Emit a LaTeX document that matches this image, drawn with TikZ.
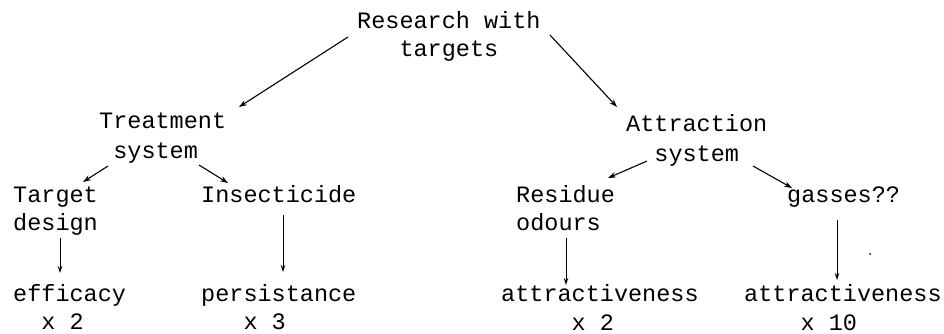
\documentclass[tikz,border=0pt]{standalone}
\usepackage{fontspec}
\setmonofont{Liberation Mono}
\usetikzlibrary{arrows.meta,calc}
\begin{document}
\begin{tikzpicture}[x=1pt,y=-1pt,
  lbl/.style={inner sep=0pt, align=left, anchor=base west, font=\ttfamily\fontsize{23.5}{28.5}\selectfont},
  sys/.style={lbl, font=\ttfamily\fontsize{23.5}{30.5}\selectfont},
  arr/.style={line width=1.1pt, -{Stealth[length=8pt,width=5.5pt]}},
  varr/.style={line width=0.9pt, -{Stealth[length=7pt,width=4.5pt]}}]
\useasboundingbox (0,0) rectangle (944,333);
% nodes (anchor: baseline of the last line)
\node[lbl] (rt) at (357,56.5) {Research with\\\hphantom{000}targets};
\node[sys] (ts) at (99,158.5) {Treatment\\\hphantom{0}system};
\node[sys] (as) at (626,161.5) {Attraction\\\hphantom{00}system};
\node[lbl] (td) at (13,230.5) {Target\\design};
\node[lbl] (in) at (201,202) {Insecticide};
\node[lbl] (ro) at (516,230.5) {Residue\\odours};
\node[lbl] (ga) at (787,202) {gasses??};
\node[lbl] (ef) at (13,329.5) {efficacy\\\hphantom{00}x 2};
\node[lbl] (pe) at (201,329.5) {persistance\\\hphantom{000}x 3};
\node[lbl] (a1) at (501,330) {attractiveness\\\hphantom{00000}x 2};
\node[lbl] (a2) at (744,330) {attractiveness\\\hphantom{0000}x 10};
% connectors
\draw[arr] ($(rt.base west)+(-9,-19.5)$) -- ($(ts.base west)+(140,-51.5)$);
\draw[arr] ($(rt.base west)+(193,-21.5)$) -- ($(as.base west)+(-9,-54.5)$);
\draw[arr] ($(ts.base west)+(9,7.5)$) -- ($(td.base west)+(70,-48.5)$);
\draw[arr] ($(ts.base west)+(100,6.5)$) -- ($(in.base west)+(27,-19)$);
\draw[arr] ($(as.base west)+(21,-0.5)$) -- ($(ro.base west)+(92,-52.5)$);
\draw[arr] ($(as.base west)+(127,4.5)$) -- ($(ga.base west)+(5,-14)$);
\draw[varr] ($(td.base west)+(47,7.5)$) -- ($(ef.base west)+(47,-56.5)$);
\draw[varr] ($(in.base west)+(82,13)$) -- ($(pe.base west)+(82,-57.5)$);
\draw[varr] ($(ro.base west)+(50,7.5)$) -- ($(a1.base west)+(65,-45)$);
\draw[varr] ($(ga.base west)+(50,18)$) -- ($(a2.base west)+(93,-50)$);
\fill (870,254) circle (1pt);
\end{tikzpicture}
\end{document}
